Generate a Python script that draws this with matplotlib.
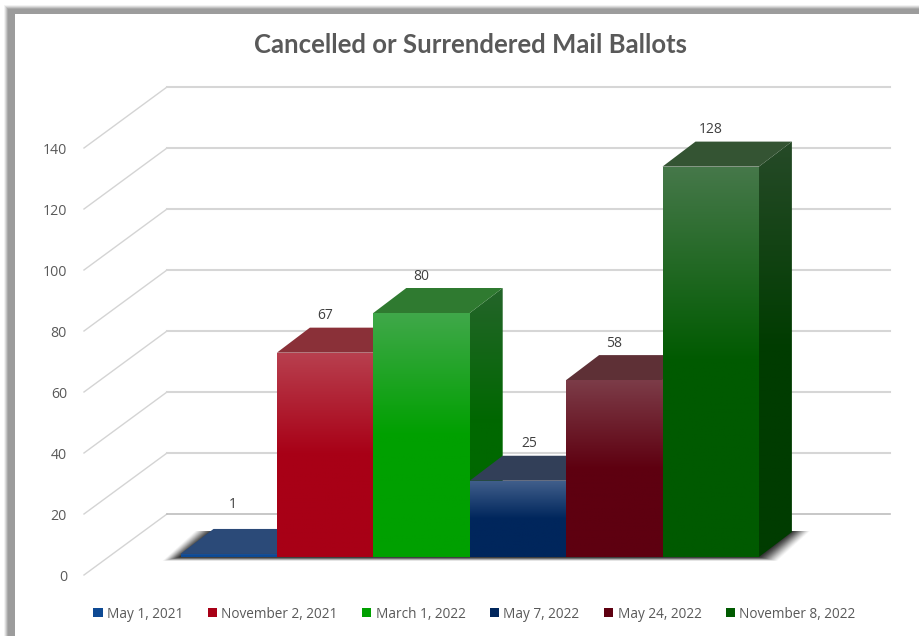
#!/bin/python3
import matplotlib
matplotlib.use("Agg")
import matplotlib.pyplot as plt
import numpy as np
from matplotlib.colors import LinearSegmentedColormap
from matplotlib.patches import Patch, Polygon, Rectangle

title = "Cancelled or Surrendered Mail Ballots"
dates = ["May 1, 2021", "November 2, 2021", "March 1, 2022",
         "May 7, 2022", "May 24, 2022", "November 8, 2022"]
ballots = [1, 67, 80, 25, 58, 128]
y_ticks = [0, 20, 40, 60, 80, 100, 120, 140]

front_light = ["#2f5d9a", "#b8404f", "#40a84a", "#42608c", "#7c3c48", "#46784a"]
front_main = ["#0e4a94", "#a80016", "#00a000", "#00265c", "#5e0010", "#005a00"]
top_colors = ["#2b4a78", "#8a3038", "#2f7a30", "#323f58", "#5e3036", "#345433"]
side_light = ["#1c3560", "#702028", "#24642a", "#222c40", "#3e2024", "#264a28"]
side_main = ["#082e60", "#6e000e", "#006800", "#001a3e", "#3e000a", "#003c00"]

W, H = 919, 636
PX_X = 96.4   # pixels per bar
PX_Y = 3.05   # pixels per ballot
X0, Y0 = 180.5, 557

# depth of the bars and of the walls, in data units
BAR_DX, BAR_DY = 33 / PX_X, 25 / PX_Y
WALL_X, WALL_DY = -13.5 / PX_X, 43 / PX_Y
FLOOR_X, FLOOR_DY = -96.5 / PX_X, -18 / PX_Y
GRID_END = (890 - X0) / PX_X

fig = plt.figure(figsize=(W / 100, H / 100), dpi=100, facecolor="white")

# grey picture frame with a soft outer edge
frame = [(4, "#f2f2f2"), (5, "#dcdcdc"), (6, "#c4c4c4"), (7, "#aaaaaa"), (8, "#9c9c9c")]
for pad, col in frame:
    fig.patches.append(Rectangle((pad / W, 0), 1, 1 - (pad + 1) / H, transform=fig.transFigure,
                                 facecolor=col, edgecolor="none", zorder=-5))
fig.patches.append(Rectangle((15 / W, 0), 1, 1 - 14 / H, transform=fig.transFigure,
                             facecolor="white", edgecolor="none", zorder=-4))

ax = fig.add_axes([0, 0, 1, 1])
ax.axis("off")
ax.patch.set_alpha(0)


def gradient_poly(ax, pts, light, main, z, split=0.5):
    pts = np.array(pts)
    cmap = LinearSegmentedColormap.from_list("g", [(0, light), (split, main), (1, main)])
    xs, ys = pts[:, 0], pts[:, 1]
    im = ax.imshow(np.linspace(0, 1, 256).reshape(-1, 1), cmap=cmap, aspect="auto", zorder=z,
                   extent=(xs.min(), xs.max(), ys.min(), ys.max()), origin="upper")
    im.set_clip_path(Polygon(pts, transform=ax.transData))


# gridlines: diagonal on the floor side, then along the back wall
for t in y_ticks:
    ax.plot([FLOOR_X, WALL_X], [t + FLOOR_DY, t + WALL_DY], color="#d4d4d4", lw=1.0, zorder=1)
    ax.plot([WALL_X, GRID_END], [t + WALL_DY, t + WALL_DY],
            color="#bdbdbd" if t == 0 else "#d6d6d6", lw=1.2 if t == 0 else 1.5, zorder=1)
    ax.text(FLOOR_X - 17 / PX_X, t + FLOOR_DY - 2.5 / PX_Y, str(t), ha="right", va="center",
            fontsize=10.2, color="#595959", family="Open Sans")

# soft shadow on the floor, darker towards the bars
n = len(ballots)
for e in range(18, 0, -1):
    ex, ey = e / PX_X, 4 * e / 18 / PX_Y
    ax.add_patch(Polygon([(-ex, -ey), (n + ex, -ey), (n + BAR_DX + ex, BAR_DY + 1 / PX_Y),
                          (BAR_DX - ex, BAR_DY + 1 / PX_Y)],
                         facecolor="black", edgecolor="none",
                         alpha=0.03 + 0.11 * (1 - e / 18), zorder=2))

# bars drawn left to right, each one hides what is behind it
z = 3
for i, v in enumerate(ballots):
    gradient_poly(ax, [(i + 1, 0), (i + 1 + BAR_DX, BAR_DY), (i + 1 + BAR_DX, v + BAR_DY), (i + 1, v)],
                  side_light[i], side_main[i], z)
    ax.add_patch(Polygon([(i, v), (i + 1, v), (i + 1 + BAR_DX, v + BAR_DY), (i + BAR_DX, v + BAR_DY)],
                         facecolor=top_colors[i], edgecolor="none", zorder=z + 1))
    gradient_poly(ax, [(i, 0), (i + 1, 0), (i + 1, v), (i, v)], front_light[i], front_main[i], z + 2)
    z += 3

# the two low bars have their labels pushed aside, as in the source chart
for i, v in enumerate(ballots):
    off = 49 if i == 0 else 37
    shift = {0: 4, 3: 11}.get(i, 0)
    ax.text(i + 0.5 + shift / PX_X, v + off / PX_Y, str(v), ha="center", va="center",
            fontsize=10, color="#404040", family="Open Sans", zorder=40)

ax.set_xlim(-X0 / PX_X, (W - X0) / PX_X)
ax.set_ylim(-(H - Y0) / PX_Y, Y0 / PX_Y)

fig.text(470.5 / W, 1 - 45 / H, title, ha="center", va="center", fontsize=18.5,
         fontweight="bold", color="#595959", family="Lato")

handles = [Patch(facecolor=c, edgecolor="none") for c in front_main]
ax.legend(handles, dates, ncol=6, loc="center", bbox_to_anchor=(474.5 / W, 1 - 614 / H),
          bbox_transform=fig.transFigure, frameon=False, handlelength=0.68, handleheight=0.68,
          handletextpad=0.3, columnspacing=1.8, labelcolor="#595959",
          prop={"family": "Open Sans", "size": 9.85})

fig.savefig("out.png", dpi=100)
